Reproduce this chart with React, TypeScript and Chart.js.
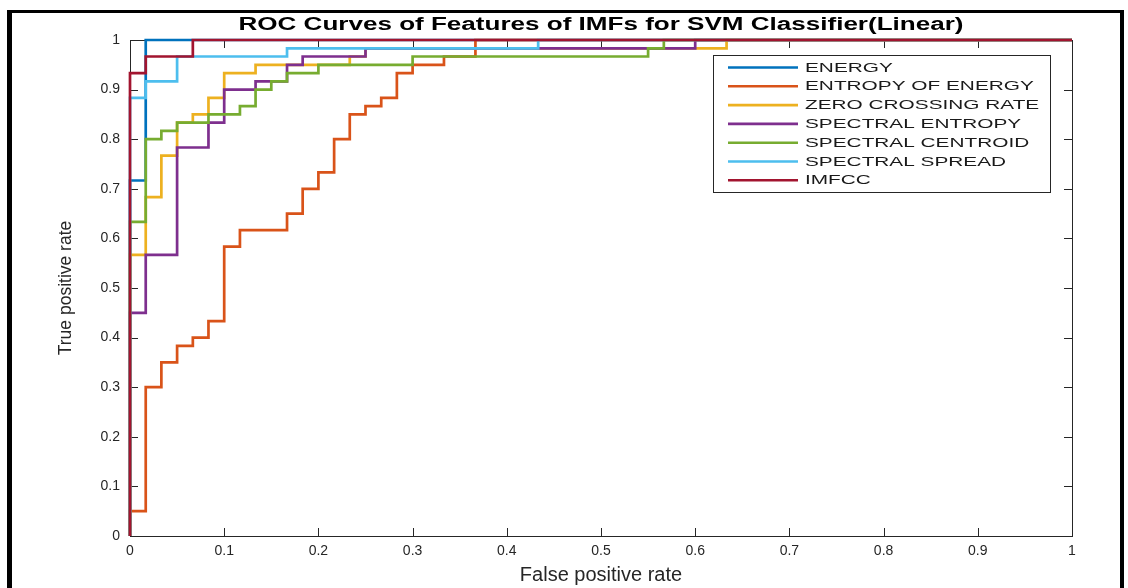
import React, { useEffect, useRef } from "react";
import { Chart, registerables } from "chart.js";

Chart.register(...registerables);

const TITLE = "ROC Curves of Features of IMFs for SVM Classifier(Linear)";
const X_LABEL = "False positive rate";
const Y_LABEL = "True positive rate";
const TICK_VALUES = [0, 0.1, 0.2, 0.3, 0.4, 0.5, 0.6, 0.7, 0.8, 0.9, 1];
const TICK_LABELS = ["0", "0.1", "0.2", "0.3", "0.4", "0.5", "0.6", "0.7", "0.8", "0.9", "1"];

const SERIES_NAMES = [
  "ENERGY",
  "ENTROPY OF ENERGY",
  "ZERO CROSSING RATE",
  "SPECTRAL ENTROPY",
  "SPECTRAL CENTROID",
  "SPECTRAL SPREAD",
  "IMFCC",
];
const SERIES_COLORS = ["#0072BD", "#D95319", "#EDB120", "#7E2F8E", "#77AC30", "#4DBEEE", "#A2142F"];

const energyFpr = [0, 0, 0.0167, 0.0167, 1];
const energyTpr = [0, 0.7167, 0.7167, 1, 1];

const entropyFpr = [0, 0, 0.0167, 0.0167, 0.0333, 0.0333, 0.05, 0.05, 0.0667, 0.0667, 0.0833, 0.0833, 0.1, 0.1, 0.1167, 0.1167, 0.1667, 0.1667, 0.1833, 0.1833, 0.2, 0.2, 0.2167, 0.2167, 0.2333, 0.2333, 0.25, 0.25, 0.2667, 0.2667, 0.2833, 0.2833, 0.3, 0.3, 0.3333, 0.3333, 0.3667, 0.3667, 1];
const entropyTpr = [0, 0.05, 0.05, 0.3, 0.3, 0.35, 0.35, 0.3833, 0.3833, 0.4, 0.4, 0.4333, 0.4333, 0.5833, 0.5833, 0.6167, 0.6167, 0.65, 0.65, 0.7, 0.7, 0.7333, 0.7333, 0.8, 0.8, 0.85, 0.85, 0.8667, 0.8667, 0.8833, 0.8833, 0.9333, 0.9333, 0.95, 0.95, 0.9667, 0.9667, 1, 1];

const zcrFpr = [0, 0, 0.0167, 0.0167, 0.0333, 0.0333, 0.05, 0.05, 0.0667, 0.0667, 0.0833, 0.0833, 0.1, 0.1, 0.1333, 0.1333, 0.2333, 0.2333, 0.25, 0.25, 0.6333, 0.6333, 1];
const zcrTpr = [0, 0.5667, 0.5667, 0.6833, 0.6833, 0.7667, 0.7667, 0.8333, 0.8333, 0.85, 0.85, 0.8833, 0.8833, 0.9333, 0.9333, 0.95, 0.95, 0.9667, 0.9667, 0.9833, 0.9833, 1, 1];

const specEntropyFpr = [0, 0, 0.0167, 0.0167, 0.05, 0.05, 0.0833, 0.0833, 0.1, 0.1, 0.1333, 0.1333, 0.1667, 0.1667, 0.1833, 0.1833, 0.25, 0.25, 0.6, 0.6, 1];
const specEntropyTpr = [0, 0.45, 0.45, 0.5667, 0.5667, 0.7833, 0.7833, 0.8333, 0.8333, 0.9, 0.9, 0.9167, 0.9167, 0.95, 0.95, 0.9667, 0.9667, 0.9833, 0.9833, 1, 1];

const centroidFpr = [0, 0, 0.0167, 0.0167, 0.0333, 0.0333, 0.05, 0.05, 0.0833, 0.0833, 0.1167, 0.1167, 0.1333, 0.1333, 0.15, 0.15, 0.1667, 0.1667, 0.2, 0.2, 0.3, 0.3, 0.55, 0.55, 0.5667, 0.5667, 1];
const centroidTpr = [0, 0.6333, 0.6333, 0.8, 0.8, 0.8167, 0.8167, 0.8333, 0.8333, 0.85, 0.85, 0.8667, 0.8667, 0.9, 0.9, 0.9167, 0.9167, 0.9333, 0.9333, 0.95, 0.95, 0.9667, 0.9667, 0.9833, 0.9833, 1, 1];

const spreadFpr = [0, 0, 0.0167, 0.0167, 0.05, 0.05, 0.1667, 0.1667, 0.4333, 0.4333, 1];
const spreadTpr = [0, 0.8833, 0.8833, 0.9167, 0.9167, 0.9667, 0.9667, 0.9833, 0.9833, 1, 1];

const imfccFpr = [0, 0, 0.0167, 0.0167, 0.0667, 0.0667, 1];
const imfccTpr = [0, 0.9333, 0.9333, 0.9667, 0.9667, 1, 1];

const SERIES_FPR = [energyFpr, entropyFpr, zcrFpr, specEntropyFpr, centroidFpr, spreadFpr, imfccFpr];
const SERIES_TPR = [energyTpr, entropyTpr, zcrTpr, specEntropyTpr, centroidTpr, spreadTpr, imfccTpr];

const FONT = "'Liberation Sans', Arial, Helvetica, sans-serif";
const AXIS_COLOR = "#262626";

const framePlugin = {
  id: "framePlugin",
  beforeDatasetsDraw(chart: any) {
    const { ctx, chartArea } = chart;
    const { left, right, top, bottom } = chartArea;
    const xs = chart.scales.x;
    const ys = chart.scales.y;
    ctx.save();
    ctx.strokeStyle = AXIS_COLOR;
    ctx.lineWidth = 1;
    ctx.strokeRect(left + 0.5, top + 0.5, right - left, bottom - top);
    const tl = 8;
    ctx.beginPath();
    TICK_VALUES.forEach((v) => {
      const px = Math.round(xs.getPixelForValue(v)) + 0.5;
      ctx.moveTo(px, bottom);
      ctx.lineTo(px, bottom - tl);
      ctx.moveTo(px, top);
      ctx.lineTo(px, top + tl);
      const py = Math.round(ys.getPixelForValue(v)) + 0.5;
      ctx.moveTo(left, py);
      ctx.lineTo(left + tl, py);
      ctx.moveTo(right, py);
      ctx.lineTo(right - tl, py);
    });
    ctx.stroke();
    ctx.restore();
  },
  afterDraw(chart: any) {
    const { ctx, chartArea } = chart;
    ctx.save();
    // title
    ctx.font = `bold 18px ${FONT}`;
    ctx.fillStyle = "#000000";
    ctx.textAlign = "center";
    ctx.textBaseline = "middle";
    const tw = ctx.measureText(TITLE).width;
    const sx = 725 / tw;
    ctx.save();
    ctx.translate((chartArea.left + chartArea.right) / 2, 25);
    ctx.scale(sx, 1);
    ctx.fillText(TITLE, 0, 0);
    ctx.restore();

    // legend
    const bx = 713, by = 55, bw = 337, bh = 137;
    ctx.fillStyle = "#ffffff";
    ctx.fillRect(bx, by, bw, bh);
    ctx.strokeStyle = AXIS_COLOR;
    ctx.lineWidth = 1;
    ctx.strokeRect(bx + 0.5, by + 0.5, bw, bh);
    ctx.font = `13px ${FONT}`;
    ctx.textAlign = "left";
    ctx.textBaseline = "middle";
    chart.data.datasets.forEach((ds: any, i: number) => {
      const y = 67.5 + i * 18.8;
      ctx.strokeStyle = ds.borderColor;
      ctx.lineWidth = 2.6;
      ctx.beginPath();
      ctx.moveTo(728, y);
      ctx.lineTo(798, y);
      ctx.stroke();
      ctx.fillStyle = "#1a1a1a";
      ctx.save();
      ctx.translate(805, y + 0.5);
      ctx.scale(1.6, 1);
      ctx.fillText(ds.label, 0, 0);
      ctx.restore();
    });

    // outer document frame
    ctx.fillStyle = "#000000";
    ctx.fillRect(7, 10, 5, 578);
    ctx.fillRect(7, 10, 1117, 3);
    ctx.fillRect(1120, 10, 4, 578);
    ctx.restore();
  },
};

export default function App() {
  const canvasRef = useRef<HTMLCanvasElement | null>(null);

  useEffect(() => {
    const canvas = canvasRef.current;
    if (!canvas) return;
    const datasets = SERIES_NAMES.map((name, i) => ({
      label: name,
      data: SERIES_FPR[i].map((x, j) => ({ x, y: SERIES_TPR[i][j] })),
      borderColor: SERIES_COLORS[i],
      backgroundColor: SERIES_COLORS[i],
      borderWidth: 2.7,
      pointRadius: 0,
      showLine: true,
      fill: false,
      tension: 0,
      order: SERIES_NAMES.length - 1 - i,
      clip: 4,
    }));

    const chart = new Chart(canvas, {
      type: "scatter",
      data: { datasets },
      options: {
        responsive: false,
        maintainAspectRatio: false,
        animation: false,
        layout: { padding: { top: 40, right: 56, left: 0, bottom: 0 } },
        plugins: {
          legend: { display: false },
          title: { display: false },
          tooltip: { enabled: false },
        },
        scales: {
          x: {
            type: "linear",
            min: 0,
            max: 1,
            afterBuildTicks: (s: any) => {
              s.ticks = TICK_VALUES.map((v) => ({ value: v }));
            },
            afterFit: (s: any) => {
              s.height = 52;
            },
            ticks: {
              callback: (v: any) => TICK_LABELS[TICK_VALUES.indexOf(Number(v))] ?? String(v),
              font: { family: FONT, size: 14 },
              color: AXIS_COLOR,
              padding: 7,
              maxRotation: 0,
              autoSkip: false,
            },
            grid: { display: false, drawTicks: false },
            border: { display: false },
            title: {
              display: true,
              text: X_LABEL,
              font: { family: FONT, size: 20 },
              color: AXIS_COLOR,
              padding: { top: 0, bottom: 1 },
            },
          },
          y: {
            type: "linear",
            min: 0,
            max: 1,
            afterBuildTicks: (s: any) => {
              s.ticks = TICK_VALUES.map((v) => ({ value: v }));
            },
            afterFit: (s: any) => {
              s.width = 130;
            },
            ticks: {
              callback: (v: any) => TICK_LABELS[TICK_VALUES.indexOf(Number(v))] ?? String(v),
              font: { family: FONT, size: 14 },
              color: AXIS_COLOR,
              padding: 10,
              autoSkip: false,
            },
            grid: { display: false, drawTicks: false },
            border: { display: false },
            title: {
              display: true,
              text: Y_LABEL,
              font: { family: FONT, size: 17.5 },
              color: AXIS_COLOR,
              padding: { top: 56, bottom: 0 },
            },
          },
        },
      },
      plugins: [framePlugin],
    } as any);

    return () => chart.destroy();
  }, []);

  return (
    <div style={{ position: "fixed", left: 0, top: 0, width: 1128, height: 588, background: "#ffffff" }}>
      <canvas ref={canvasRef} width={1128} height={588} style={{ width: 1128, height: 588, display: "block" }} />
    </div>
  );
}
